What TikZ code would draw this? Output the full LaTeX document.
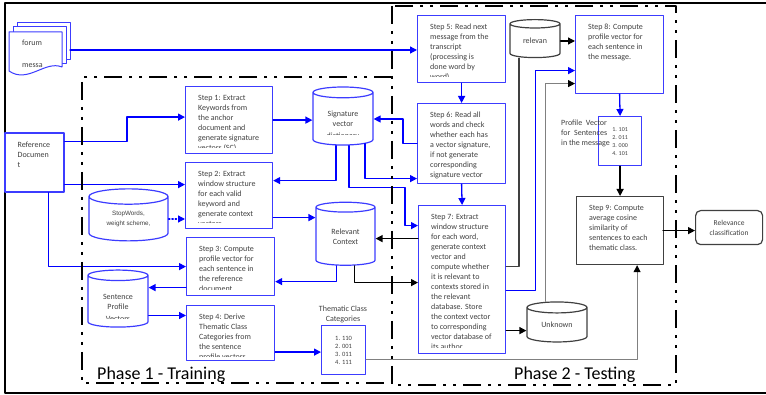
\documentclass[tikz,border=0pt]{standalone}
\usepackage{fontspec}
\setmainfont{Carlito}
\newfontfamily\arialfont{Liberation Sans}
\usetikzlibrary{arrows.meta,shapes.geometric,shapes.misc}
\definecolor{boxblue}{RGB}{60,60,255}
\definecolor{lineblue}{RGB}{0,0,255}
\definecolor{txtgray}{RGB}{64,64,64}
\definecolor{wiregray}{RGB}{128,128,128}
\tikzset{
  stepbox/.style={draw=boxblue,line width=1.2pt,fill=white,anchor=north west,inner sep=0pt},
  darkbox/.style={stepbox,draw=txtgray},
  steptext/.style={shape=rectangle,draw=none,fill=none,minimum width=0pt,minimum height=0pt,
    anchor=north west,align=left,inner sep=0pt,text=txtgray,font=\fontsize{8}{10}\selectfont},
  cuttext/.style 2 args={path picture={%
    \clip (path picture bounding box.north west) rectangle ([yshift=#1]path picture bounding box.south east);
    \node[steptext] at ([xshift=12pt,yshift=-8pt]path picture bounding box.north west) {#2};}},
  db/.style={cylinder,shape border rotate=90,aspect=0.35,draw=boxblue,line width=1.2pt,fill=white,
    inner sep=0pt,text=txtgray,font=\fontsize{8}{10}\selectfont,align=center},
  bl/.style={draw=lineblue,line width=1.3pt},
  bk/.style={draw=black,line width=1.3pt},
  gr/.style={draw=wiregray,line width=1pt},
  phase/.style={line width=2.5pt,line cap=butt,dash pattern=on 18pt off 7pt on 3pt off 7pt on 3pt off 7pt},
}
\begin{document}
\begin{tikzpicture}[line cap=round,line join=round,>={Triangle[length=7pt,width=7pt]},x=1pt,y=-1pt]
\useasboundingbox (0,0) rectangle (766,395);
\draw[line width=1.5pt] (5,3) rectangle (775,393);
% forum messages
\filldraw[draw=boxblue,fill=white,line width=1pt] (17,23) rectangle (70,60);
\filldraw[draw=boxblue,fill=white,line width=1pt] (13,27) rectangle (66,64);
\filldraw[draw=boxblue,fill=white,line width=1pt] (9,32) -- (62,32) -- (62,67) .. controls (45,60) and (28,84) .. (9,71) -- cycle;
\node[steptext] (forum) at (22,40) {forum};
\begin{scope}
\clip (9,32) -- (62,32) -- (62,67) .. controls (45,60) and (28,84) .. (9,71) -- cycle;
\node[steptext] (forummsg) at (22,63) {messa};
\end{scope}
\coordinate (forumout) at (70,50);
% phase 1 boxes
\node[stepbox,chamfered rectangle,chamfered rectangle corners=north west,chamfered rectangle xsep=3pt,chamfered rectangle ysep=3pt,
  anchor=center,minimum width=59pt,minimum height=59pt,cuttext={3pt}{Reference\\Documen\\t}] (ref) at (34.5,162.5) {};
\node[stepbox,minimum width=87pt,minimum height=67pt,cuttext={6pt}{Step 1: Extract\\Keywords from\\the anchor\\document and\\generate signature\\vectors (SC)}] (s1) at (185,86) {};
\node[stepbox,minimum width=87pt,minimum height=66pt,cuttext={6pt}{Step 2: Extract\\window structure\\for each valid\\keyword and\\generate context\\vectors}] (s2) at (185,162) {};
\node[stepbox,minimum width=88pt,minimum height=58pt,cuttext={6pt}{Step 3: Compute\\profile vector for\\each sentence in\\the reference\\document}] (s3) at (186,237) {};
\node[stepbox,minimum width=88pt,minimum height=55pt,cuttext={4pt}{Step 4: Derive\\Thematic Class\\Categories from\\the  sentence\\profile vectors}] (s4) at (186,305) {};
\node[db,minimum width=60pt,minimum height=58pt] (sig) at (343,119) {Signature\\vector};
\begin{scope}
\clip (313,128) rectangle (373,135);
\node[steptext,anchor=base] (sigmore) at (343,139) {dictionary};
\end{scope}
\node[db,minimum width=59pt,minimum height=63pt] (ctx) at (345.5,236.5) {Relevant\\Context};
\node[db,minimum width=79pt,minimum height=52pt,font=\arialfont\fontsize{6.3}{10}\selectfont] (stop) at (128.5,219) {StopWords,\\weight scheme,};
\node[db,minimum width=60pt,minimum height=57pt] (spv) at (118,301.5) {Sentence\\Profile};
\begin{scope}
\clip (88,312) rectangle (148,318.5);
\node[steptext,anchor=base] (spvmore) at (118,322) {Vectors};
\end{scope}
\node[stepbox,minimum width=44pt,minimum height=49pt,align=center,text=txtgray,font=\fontsize{6.5}{8}\selectfont] (tc) at (321,325) {1. 110\\2. 001\\3. 011\\4. 111};
\node[text=txtgray,align=center,font=\fontsize{8}{10}\selectfont] (tclabel) at (343,314) {Thematic Class\\Categories};
% phase 2 boxes
\node[stepbox,minimum width=88pt,minimum height=67pt,cuttext={6pt}{Step 5: Read next\\message from the\\transcript\\(processing is\\done word by\\word)}] (s5) at (417,15) {};
\node[stepbox,minimum width=88pt,minimum height=80pt,cuttext={3pt}{Step 6: Read all\\words and check\\whether each has\\a vector signature,\\if not generate\\corresponding\\signature vector}] (s6) at (417,103) {};
\node[stepbox,minimum width=87pt,minimum height=148pt,cuttext={6pt}{Step 7: Extract\\window structure\\for each word,\\generate context\\vector and\\compute whether\\it is relevant to\\contexts stored in\\the relevant\\database. Store\\the context vector\\to corresponding\\vector database of\\its author}] (s7) at (418,205) {};
\node[stepbox,minimum width=88pt,minimum height=78pt,cuttext={3pt}{Step 8: Compute\\profile vector for\\each sentence in\\the message.}] (s8) at (575,15) {};
\node[darkbox,minimum width=87pt,minimum height=68pt,cuttext={3pt}{Step 9: Compute\\average cosine\\similarity of\\sentences to each\\thematic class.}] (s9) at (576,196) {};
\node[darkbox,rounded corners=5pt,minimum width=67pt,minimum height=34pt,align=center,text=txtgray,font=\fontsize{7.5}{10}\selectfont] (rc) at (695,210) {Relevance\\classification};
\node[db,draw=txtgray,minimum width=50pt,minimum height=38pt] (relv) at (535,41) {relevan};
\node[db,draw=txtgray,minimum width=60pt,minimum height=40pt] (unk) at (557,325) {Unknown};
\node[stepbox,minimum width=43pt,minimum height=49pt,align=left,text=txtgray,font=\fontsize{6}{8}\selectfont] (pv) at (598,116) {1. 101\\2. 011\\3. 000\\4. 101};
\node[steptext] (pvlabel) at (561,120) {Profile\ \ Vector\\for\ \ Sentences\\in the message};
% connectors
\draw[bl,->] (forumout) -- (forumout -| s5.west);
\draw[bl,->] ([yshift=21pt]ref.east) -| ([xshift=-58pt,yshift=3pt]s1.west) -- ([yshift=3pt]s1.west);
\draw[bl,->] ([yshift=11pt]s2.west -| ref.east) -- ([yshift=11pt]s2.west);
\draw[bl,->] ([xshift=14pt]ref.south) |- (s3.west);
\draw[bl,->] (s1.east) -- (s1.east -| sig.west);
\draw[bl,->] ([xshift=-7pt]sig.south) |- ([yshift=15pt]s2.east);
\draw[bl,->] ([xshift=6pt]sig.south) |- ++(56,42) |- ([yshift=54pt]s7.west);
\draw[bl,->] ([xshift=22pt,yshift=2pt]sig.south) |- ([yshift=-35pt]s6.west);
\draw[bl,->] (s6.west) -- ++(-14,0) |- (sig.east);
\draw[bl,->] (s5.south) -- (s6.north);
\draw[bl,->] (s6.south) -- (s7.north);
\draw[bl,->] ([yshift=-22pt]s2.east) -- ([yshift=-22pt]s2.east -| ctx.west);
\draw[bk,->] ([yshift=41pt]s7.west) -- ([yshift=41pt]s7.west -| ctx.east);
\draw[bl,->] ([xshift=-9pt]ctx.south) |- ([yshift=-15pt]s3.east);
\draw[bk,->] ([xshift=9pt]ctx.south) |- ([yshift=-3pt]s7.west);
\draw[bl,->,dotted] (stop.east) -- (stop.east -| s2.west);
\draw[bl,->] ([yshift=-21pt]s3.west) -- ([yshift=-21pt]s3.west -| spv.east);
\draw[bl,->] ([yshift=-14pt]spv.east) -- ([yshift=-14pt]spv.east -| s4.west);
\draw[bl,->] ([yshift=-19pt]s4.east) -- ([yshift=-19pt]s4.east -| tc.west);
\draw[gr,-{Triangle[length=7pt,width=7pt,color=black]}] ([yshift=-9pt]tc.east) -| ([xshift=17pt]s9.south);
\draw[bk,->] (relv.east) -- (relv.east -| s8.west);
\draw[bk,draw=txtgray] ([yshift=13pt]s7.east) -| ([xshift=-16pt]relv.south);
\draw[bl,->] ([yshift=-11pt]s7.east) -- ++(29,0) |- ([yshift=-16pt]s8.west);
\draw[gr,-{Triangle[length=7pt,width=7pt,color=black]}] ([xshift=-12pt]unk.north) |- ([yshift=-29pt]s8.west);
\draw[bk,->] ([yshift=-51pt]s7.east) -- ([yshift=-51pt]s7.east -| unk.west);
\draw[bl,->] (s8.south) -- (pv.north);
\draw[bk,->] (pv.south) -- (s9.north);
\draw[bk,->] (s9.east -| rc.west) ++(-32,0) -- (s9.east -| rc.west);
% phases
\draw[phase] (392,77) -| (82,383) -- (392,383);
\draw[phase] (392,6) rectangle (676,385);
\node[anchor=base west,inner sep=0pt,font=\fontsize{18}{20}\selectfont] (ph1) at (97,379) {Phase 1 - Training};
\node[anchor=base west,inner sep=0pt,font=\fontsize{18}{20}\selectfont] (ph2) at (514,379) {Phase 2 - Testing};
\end{tikzpicture}
\end{document}
